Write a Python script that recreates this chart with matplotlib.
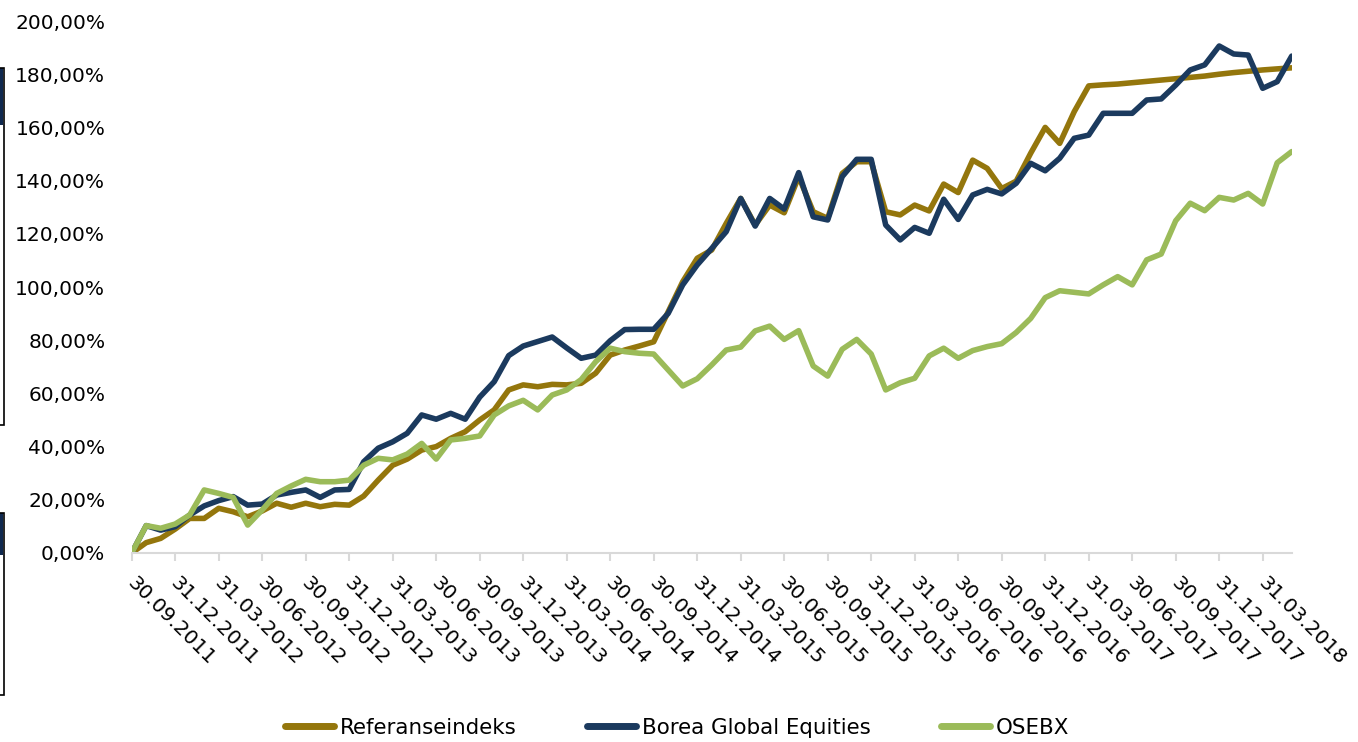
import numpy as np
import matplotlib
matplotlib.use("Agg")
import matplotlib.pyplot as plt
import matplotlib.transforms as mtransforms
from matplotlib.patches import Rectangle
from matplotlib.ticker import FuncFormatter

# ---- data (cumulative return in %, monthly from 30.09.2011) ----
referanseindeks = [
    0.0, 3.9, 5.5, 9.0, 13.0, 13.0, 16.8, 15.5, 13.6, 15.8,
    18.7, 17.2, 18.7, 17.4, 18.3, 18.0, 21.4, 27.4, 33.0, 35.3,
    38.7, 40.0, 43.1, 45.6, 50.0, 53.8, 61.3, 63.2, 62.5, 63.4,
    63.2, 63.8, 67.6, 74.4, 76.3, 77.8, 79.4, 90.7, 102.0, 110.8,
    113.9, 123.9, 133.3, 123.3, 130.8, 127.9, 141.5, 128.3, 125.8, 142.7,
    147.1, 147.1, 128.3, 127.1, 130.8, 128.6, 138.7, 135.5, 147.7, 144.6,
    137.0, 139.8, 150.3, 160.0, 154.0, 165.9, 175.6, 176.0, 176.3, 176.8,
    177.3, 177.8, 178.3, 178.8, 179.3, 180.0, 180.6, 181.1, 181.6, 182.0,
    182.4,
]
borea = [
    0.0, 10.3, 8.6, 9.9, 14.3, 17.7, 19.7, 21.2, 18.0, 18.4,
    21.8, 22.8, 23.7, 20.9, 23.7, 23.9, 34.3, 39.4, 41.8, 45.0,
    51.9, 50.3, 52.5, 50.3, 58.6, 64.4, 74.2, 77.8, 79.5, 81.2,
    77.1, 73.2, 74.4, 79.8, 84.0, 84.1, 84.1, 90.1, 100.8, 108.3,
    114.5, 120.8, 133.3, 122.9, 133.3, 129.3, 143.0, 126.4, 125.2, 141.5,
    148.0, 148.0, 123.3, 117.7, 122.4, 120.2, 133.0, 125.4, 134.6, 136.7,
    135.0, 139.0, 146.5, 143.7, 148.4, 155.9, 157.1, 165.3, 165.3, 165.3,
    170.3, 170.7, 175.9, 181.6, 183.5, 190.6, 187.6, 187.2, 174.7, 177.2,
    186.8,
]
osebx = [
    0.0, 10.3, 9.3, 10.9, 14.3, 23.7, 22.4, 20.9, 10.5, 16.2,
    22.4, 25.2, 27.7, 26.8, 26.8, 27.4, 33.0, 35.6, 35.0, 37.2,
    41.2, 35.3, 42.5, 43.1, 44.0, 51.9, 55.3, 57.4, 53.8, 59.4,
    61.3, 65.2, 71.9, 77.0, 75.7, 75.1, 74.8, 68.8, 62.8, 65.5,
    70.7, 76.3, 77.4, 83.5, 85.3, 80.3, 83.6, 70.3, 66.5, 76.6,
    80.3, 74.8, 61.3, 64.0, 65.7, 74.1, 77.0, 73.2, 76.1, 77.6,
    78.7, 82.9, 88.2, 96.0, 98.6, 98.0, 97.4, 100.8, 103.9, 100.8,
    110.2, 112.4, 124.9, 131.5, 128.7, 133.7, 132.7, 135.2, 131.2, 146.7,
    150.9,
]
tick_labels = [
    "30.09.2011", "31.12.2011", "31.03.2012", "30.06.2012", "30.09.2012",
    "31.12.2012", "31.03.2013", "30.06.2013", "30.09.2013", "31.12.2013",
    "31.03.2014", "30.06.2014", "30.09.2014", "31.12.2014", "31.03.2015",
    "30.06.2015", "30.09.2015", "31.12.2015", "31.03.2016", "30.06.2016",
    "30.09.2016", "31.12.2016", "31.03.2017", "30.06.2017", "30.09.2017",
    "31.12.2017", "31.03.2018",
]
series_names = ["Referanseindeks", "Borea Global Equities", "OSEBX"]
colors = ["#94760C", "#1B3A5E", "#9BBB59"]

W, H = 1358, 742
fig = plt.figure(figsize=(W / 100, H / 100), dpi=100)
ax = fig.add_axes([131.7 / W, (H - 553) / H, (1291.7 - 131.7) / W, (553 - 21) / H])

x = np.arange(len(referanseindeks))
for vals, name, c in zip([referanseindeks, borea, osebx], series_names, colors):
    ax.plot(x, vals, color=c, lw=4.0, label=name,
            solid_joinstyle="round", solid_capstyle="round")

ax.set_xlim(0, len(x) - 1)
ax.set_ylim(0, 200)
ax.set_yticks(np.arange(0, 201, 20))
ax.yaxis.set_major_formatter(FuncFormatter(lambda v, p: f"{v:.2f}".replace(".", ",") + "%"))
ax.tick_params(axis="y", length=0, pad=19, labelsize=14.5, labelcolor="black")

tick_pos = np.arange(0, len(x), 3)
ax.set_xticks(tick_pos)
ax.set_xticklabels(tick_labels, rotation=-45, ha="left", va="top",
                   rotation_mode="anchor", fontsize=14.5)
ax.tick_params(axis="x", length=6, width=1.5, color="#D9D9D9", pad=9)
off = mtransforms.ScaledTranslation(0.05, 0, fig.dpi_scale_trans)
for lab in ax.get_xticklabels():
    lab.set_transform(lab.get_transform() + off)

for s in ["top", "right", "left"]:
    ax.spines[s].set_visible(False)
ax.spines["bottom"].set_color("#D9D9D9")
ax.spines["bottom"].set_linewidth(1.5)

leg = fig.legend(loc="center", bbox_to_anchor=(0.4985, 0.019), ncol=3, frameon=False,
                 fontsize=15.4, handlelength=2.3, handletextpad=0.25, columnspacing=3.3)
for h in leg.legend_handles:
    h.set_linewidth(5)
    h.set_solid_capstyle("round")

# clipped shapes at the left edge
ident = mtransforms.IdentityTransform()
for top, bot, blue_bot in [(68, 425, 125), (513, 695, 555)]:
    fig.add_artist(Rectangle((0, H - blue_bot), 3, blue_bot - top, transform=ident,
                             facecolor="#10294F", edgecolor="none"))
    fig.add_artist(Rectangle((-3, H - bot), 7, bot - top, transform=ident,
                             facecolor="none", edgecolor="black", lw=1.2))

fig.savefig("out.png", dpi=100)
